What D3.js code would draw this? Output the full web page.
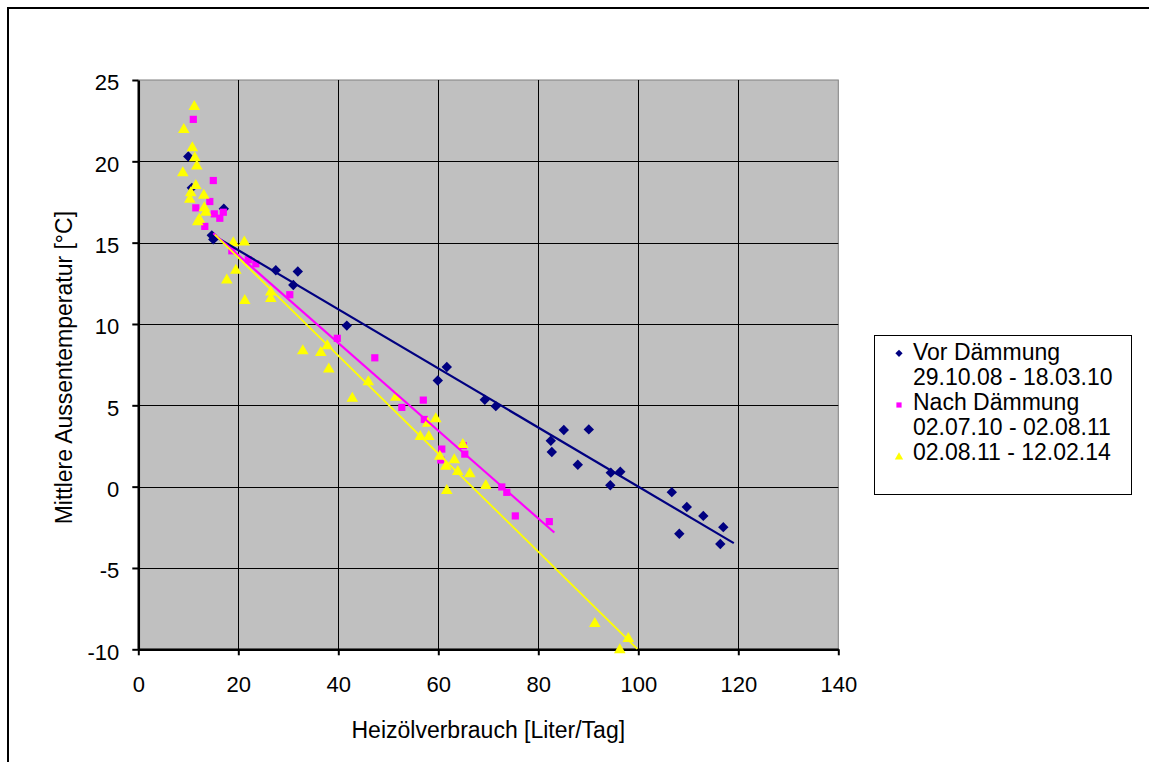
<!DOCTYPE html>
<html><head><meta charset="utf-8">
<script src="https://cdn.jsdelivr.net/npm/d3@7"></script>
<style>
html,body{margin:0;padding:0;background:#fff;}
text{font-family:"Liberation Sans",Arial,sans-serif;fill:#000;}
</style></head>
<body>
<svg id="chart" width="1149" height="762"></svg>
<script>
// ---- data ----
const vorX = [10.0,10.7,17.1,14.7,15.0,27.5,31.9,31.0,41.7,61.7,59.9,69.3,71.5,82.5,82.7,85.1,90.1,87.9,94.5,96.4,94.4,106.7,109.7,113.0,117.0,108.2,116.4];
const vorY = [20.3,18.37,17.08,15.45,15.2,13.3,13.23,12.4,9.9,7.36,6.53,5.34,4.95,2.82,2.13,3.48,3.52,1.35,0.86,0.92,0.09,-0.34,-1.25,-1.8,-2.49,-2.9,-3.53];

const nachX = [11.0,15.0,14.3,11.5,15.2,17.0,16.3,13.3,18.7,22.0,23.5,30.3,39.8,47.3,57.0,52.7,57.2,60.7,60.5,65.0,65.3,72.7,73.7,75.4,82.2];
const nachY = [22.58,18.82,17.53,17.14,16.77,16.87,16.5,16.0,14.5,13.95,13.7,11.8,9.12,7.92,5.32,4.87,4.13,2.31,1.64,2.52,2.0,-0.02,-0.35,-1.8,-2.15];

const nachherX = [11.2,9.1,10.8,11.3,11.7,8.9,11.5,10.5,10.3,13.1,13.2,13.5,12.2,11.9,19.0,21.2,19.5,17.7,21.3,26.5,26.5,32.9,36.5,37.8,38.1,46.0,42.8,51.5,59.5,57.9,56.4,58.1,64.9,60.3,61.5,63.2,63.9,66.3,69.5,61.7,91.3,98.0,96.3];
const nachherY = [23.4,21.98,20.86,20.25,19.74,19.33,18.55,18.1,17.7,17.94,17.18,16.9,16.47,16.32,15.03,15.07,13.34,12.74,11.47,12.0,11.6,8.39,8.28,8.69,7.26,6.48,5.46,5.52,4.2,3.93,3.11,3.11,2.62,1.9,1.29,1.68,0.96,0.82,0.1,-0.2,-8.38,-9.3,-10.0];

// trendline end points (x, y)
const trendVorX = [14.7,119.1], trendVorY = [15.5,-3.47];
const trendNachX = [15.0,83.2], trendNachY = [15.58,-2.82];
const trendNachherX = [15.3,99.8], trendNachherY = [15.5,-9.97];

const xTicks = [0,20,40,60,80,100,120,140];
const yTicks = [-10,-5,0,5,10,15,20,25];
const legendLabels = [["Vor Dämmung","29.10.08 - 18.03.10"],["Nach Dämmung","02.07.10 - 02.08.11"],["02.08.11 - 12.02.14"]];
const xTitle = "Heizölverbrauch [Liter/Tag]";
const yTitle = "Mittlere Aussentemperatur [°C]";

// ---- drawing ----
const svg = d3.select("#chart");
const L = 138.3, R = 838.3, T = 80, B = 649.3;
const x = d3.scaleLinear().domain([0,140]).range([L,R]);
const y = d3.scaleLinear().domain([-10,25]).range([B,T]);
const fmt = d => String(d);

// outer frame
svg.append("rect").attr("x",8).attr("y",8).attr("width",1200).attr("height",800)
  .attr("fill","#fff").attr("stroke","#000").attr("stroke-width",2);

// plot area
svg.append("rect").attr("x",L).attr("y",T).attr("width",R-L).attr("height",B-T)
  .attr("fill","#C0C0C0").attr("stroke","#808080").attr("stroke-width",1);

// grid
svg.append("g").selectAll("line").data(xTicks.filter(d=>d>0&&d<140)).join("line")
  .attr("x1",d=>Math.round(x(d))+0.5).attr("x2",d=>Math.round(x(d))+0.5)
  .attr("y1",T).attr("y2",B).attr("stroke","#000").attr("stroke-width",1);
svg.append("g").selectAll("line").data(yTicks.filter(d=>d>-10&&d<25)).join("line")
  .attr("x1",L).attr("x2",R)
  .attr("y1",d=>Math.round(y(d))+0.5).attr("y2",d=>Math.round(y(d))+0.5)
  .attr("stroke","#000").attr("stroke-width",1);

// axes
const xAxis = d3.axisBottom(x).tickValues(xTicks).tickFormat(fmt).tickSizeInner(6).tickSizeOuter(0).tickPadding(21);
const gx = svg.append("g").attr("transform",`translate(0,${B})`).call(xAxis);
gx.select(".domain").attr("stroke","#000").attr("stroke-width",2.5);
gx.selectAll(".tick line").attr("stroke","#000").attr("stroke-width",2);
gx.selectAll(".tick text").attr("font-size",22).attr("font-family","Liberation Sans, Arial, sans-serif").attr("fill","#000");

const yAxis = d3.axisLeft(y).tickValues(yTicks).tickFormat(fmt).tickSizeInner(6).tickSizeOuter(0).tickPadding(13);
const gy = svg.append("g").attr("transform",`translate(${L},0)`).call(yAxis);
gy.select(".domain").attr("stroke","#000").attr("stroke-width",2.5);
gy.selectAll(".tick line").attr("stroke","#000").attr("stroke-width",2);
gy.selectAll(".tick text").attr("font-size",22).attr("font-family","Liberation Sans, Arial, sans-serif").attr("fill","#000").attr("dy","0.45em");

// markers (drawn over axes, as in the original)
const plot = svg.append("g");
const diamond = "M0,-5.2L5.2,0L0,5.2L-5.2,0Z";
const square = "M-3.6,-3.6H3.6V3.6H-3.6Z";
const tri = "M0,-6L5.8,4L-5.8,4Z";

plot.append("g").selectAll("path").data(d3.range(vorX.length)).join("path")
  .attr("d",diamond).attr("fill","#000080")
  .attr("transform",i=>`translate(${x(vorX[i])},${y(vorY[i])})`);
plot.append("g").selectAll("path").data(d3.range(nachX.length)).join("path")
  .attr("d",square).attr("fill","#FF00FF")
  .attr("transform",i=>`translate(${x(nachX[i])},${y(nachY[i])})`);
plot.append("g").selectAll("path").data(d3.range(nachherX.length)).join("path")
  .attr("d",tri).attr("fill","#FFFF00")
  .attr("transform",i=>`translate(${x(nachherX[i])},${y(nachherY[i])})`);

const line = d3.line().x(d=>x(d[0])).y(d=>y(d[1]));
const trends = [
  [trendVorX,trendVorY,"#000080",2.2],
  [trendNachX,trendNachY,"#FF00FF",2.2],
  [trendNachherX,trendNachherY,"#FFFF00",1.8]];
trends.forEach(([tx,ty,c,w])=>{
  plot.append("path").datum(tx.map((v,i)=>[v,ty[i]]))
    .attr("d",line).attr("fill","none").attr("stroke",c).attr("stroke-width",w);
});

// titles
svg.append("text").attr("x",(L+R)/2).attr("y",738).attr("text-anchor","middle")
  .attr("font-size",23).text(xTitle);
svg.append("text").attr("transform",`translate(72,${(T+B)/2+3}) rotate(-90)`).attr("text-anchor","middle")
  .attr("font-size",23).text(yTitle);

// legend
const lg = svg.append("g");
lg.append("rect").attr("x",874.5).attr("y",335.5).attr("width",257).attr("height",159)
  .attr("fill","#fff").attr("stroke","#000").attr("stroke-width",1);
const lineBase = [360,385,410,435,460];
const texts = legendLabels.flat();
lg.selectAll("text.l").data(texts).join("text").attr("class","l")
  .attr("x",913).attr("y",(d,i)=>lineBase[i]).attr("font-size",23).text(d=>d);
const markerY = [353.3,405,456.5];
const shapesL = ["M0,-3.6L3.6,0L0,3.6L-3.6,0Z","M-2.6,-2.6H2.6V2.6H-2.6Z","M0,-4.2L4.2,3L-4.2,3Z"];
const colorsL = ["#000080","#FF00FF","#FFFF00"];
lg.selectAll("path").data(d3.range(3)).join("path")
  .attr("d",i=>shapesL[i]).attr("fill",i=>colorsL[i])
  .attr("transform",i=>`translate(899,${markerY[i]})`);
</script>
</body></html>
